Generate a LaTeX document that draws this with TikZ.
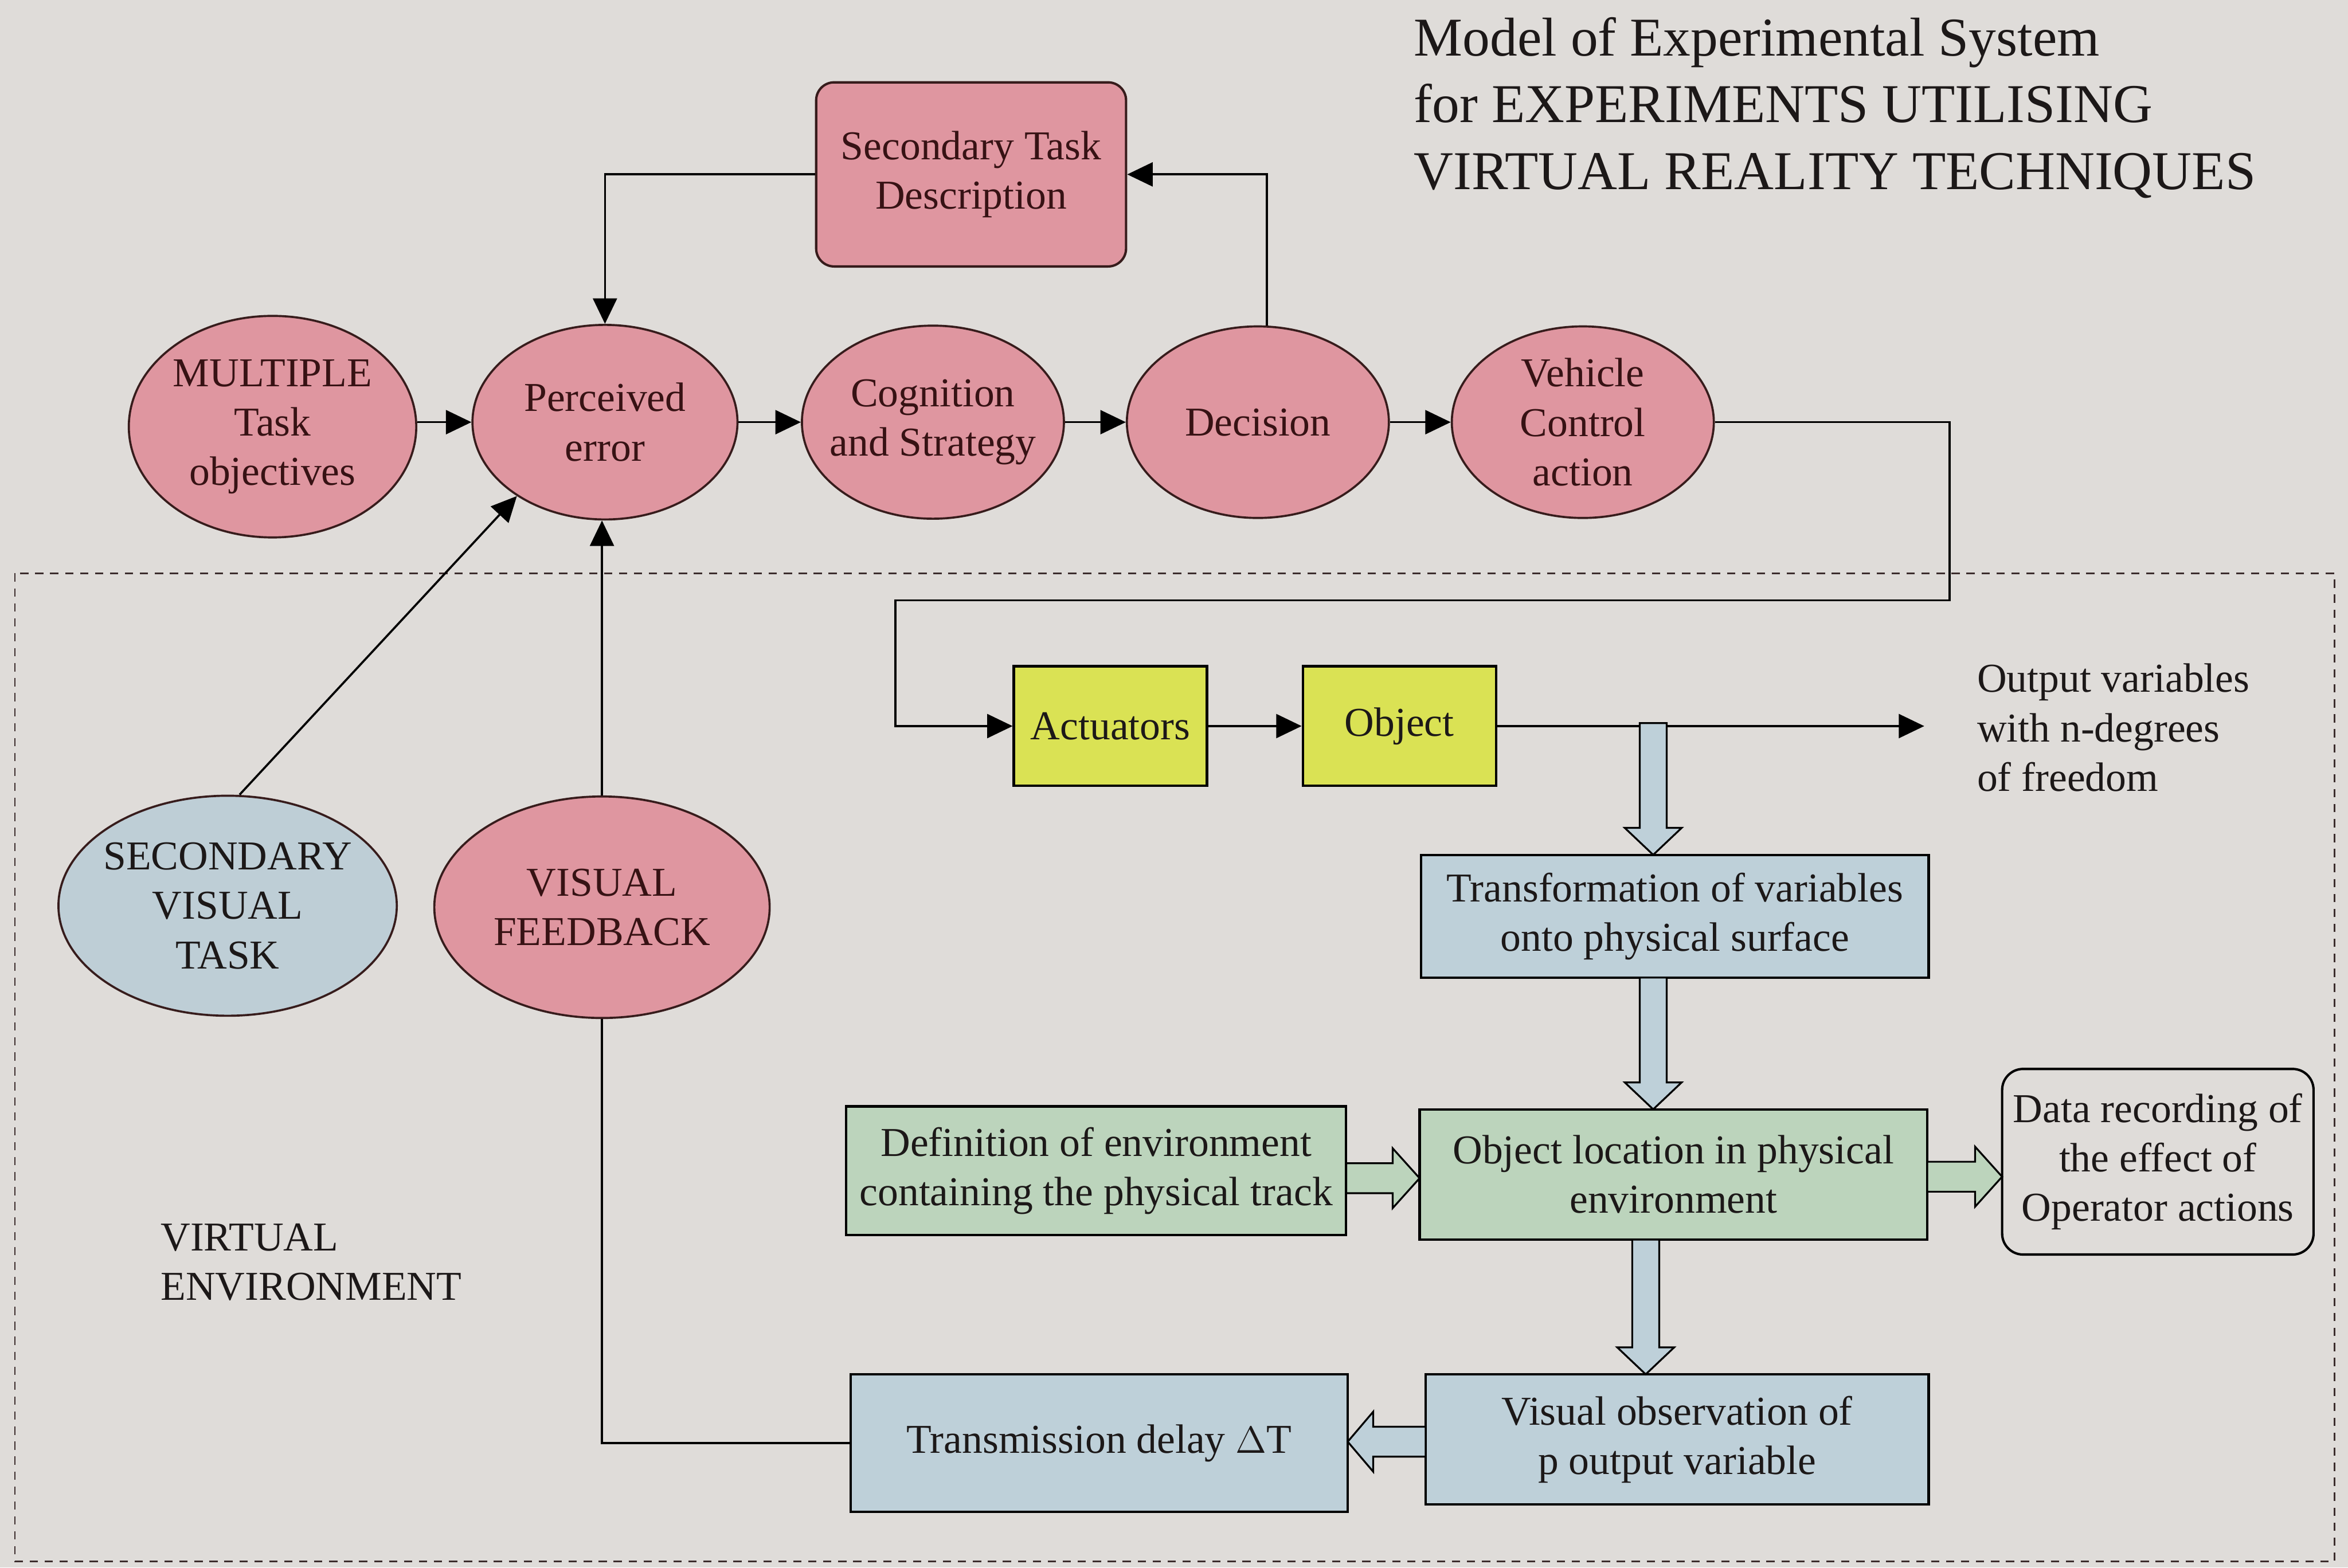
\documentclass[tikz,border=0pt]{standalone}
\usepackage{fontspec}
\setmainfont{Liberation Serif}
\usetikzlibrary{shapes.geometric,arrows.meta}
\definecolor{bgc}{RGB}{223,220,217}
\definecolor{pinkf}{RGB}{223,150,160}
\definecolor{bluef}{RGB}{190,206,214}
\definecolor{boxblue}{RGB}{190,208,217}
\definecolor{greenf}{RGB}{188,212,188}
\definecolor{yellowf}{RGB}{218,226,84}
\definecolor{edgec}{RGB}{55,28,28}
\definecolor{ptext}{RGB}{55,18,20}
\definecolor{txt}{RGB}{28,24,24}
\definecolor{dashc}{RGB}{60,45,45}
\begin{document}
\begin{tikzpicture}[x=0.02cm,y=-0.02cm,
  every node/.style={font=\fontsize{15.6}{18.8}\selectfont, text=txt},
  pinkell/.style={ellipse, draw=edgec, fill=pinkf, line width=0.8pt, inner sep=0pt, align=center, text=ptext},
  blueell/.style={ellipse, draw=edgec, fill=bluef, line width=0.8pt, inner sep=0pt, align=center},
  pinkbox/.style={rectangle, rounded corners=0.24cm, draw=edgec, fill=pinkf, line width=0.9pt, inner sep=0pt, align=center, text=ptext},
  bluebox/.style={rectangle, draw=black, fill=boxblue, line width=0.9pt, inner sep=0pt, align=center},
  greenbox/.style={rectangle, draw=black, fill=greenf, line width=0.9pt, inner sep=0pt, align=center},
  yellowbox/.style={rectangle, draw=black, fill=yellowf, line width=0.9pt, inner sep=0pt, align=center},
  plainbox/.style={rectangle, rounded corners=0.28cm, draw=black, line width=0.9pt, inner sep=0pt, align=center},
  conn/.style={draw=black, line width=0.8pt},
  arr/.style={conn, -{Triangle[length=0.34cm,width=0.32cm]}},
  blk/.style={draw=black, fill=boxblue, line width=0.7pt, line join=miter},
  blkg/.style={draw=black, fill=greenf, line width=0.7pt, line join=miter},
  labeltext/.style={align=left, inner sep=0pt}
]
\fill[bgc] (0,0) rectangle (1568,1047);
\useasboundingbox (0,0) rectangle (1568,1047);

% title
\node[labeltext, anchor=west, font=\fontsize{20.8}{25.3}\selectfont] (title) at (944,72)
  {Model of Experimental System\\for EXPERIMENTS UTILISING\\VIRTUAL REALITY TECHNIQUES};

% dashed virtual environment frame
\draw[dashc, line width=0.6pt, dash pattern=on 0.11cm off 0.09cm] (10,383) rectangle (1559,1043);
\node[labeltext, anchor=west] (ve) at (107,843) {VIRTUAL\\ENVIRONMENT};

% top row
\node[pinkbox, minimum width=4.14cm, minimum height=2.46cm] (std) at (648.5,116.5) {Secondary Task\\Description};
\node[pinkell, minimum width=3.84cm, minimum height=2.96cm, inner ysep=-0.1cm] (mto) at (182,285) {MULTIPLE\\Task\\objectives};
\node[pinkell, minimum width=3.54cm, minimum height=2.6cm] (pe) at (404,282) {Perceived\\error};
\node[pinkell, minimum width=3.5cm, minimum height=2.58cm, inner xsep=-0.15cm] (cs) at (623,282) {Cognition\\and Strategy};
\node[pinkell, minimum width=3.5cm, minimum height=2.56cm] (dec) at (840,282) {Decision};
\node[pinkell, minimum width=3.5cm, minimum height=2.56cm, inner ysep=-0.1cm] (vca) at (1057,282) {Vehicle\\Control\\action};

% lower ellipses
\node[blueell, minimum width=4.52cm, minimum height=2.94cm, inner xsep=-0.15cm, inner ysep=-0.1cm] (svt) at (152,605) {SECONDARY\\VISUAL\\TASK};
\node[pinkell, minimum width=4.48cm, minimum height=2.96cm] (vf) at (402,606) {VISUAL\\FEEDBACK};

% plant
\node[yellowbox, minimum width=2.58cm, minimum height=1.6cm] (act) at (741.5,485) {Actuators};
\node[yellowbox, minimum width=2.58cm, minimum height=1.6cm] (obj) at (934.5,485) {Object};
\coordinate (outtip) at (1285,485);
\node[labeltext, anchor=west] (outv) at (1320,486) {Output variables\\with n-degrees\\of freedom};

\node[bluebox, minimum width=6.78cm, minimum height=1.64cm] (tf) at (1118.5,612) {Transformation of variables\\onto physical surface};
\node[greenbox, minimum width=6.78cm, minimum height=1.74cm] (ol) at (1117.5,784.5) {Object location in physical\\environment};
\node[greenbox, minimum width=6.68cm, minimum height=1.72cm] (def) at (732,782) {Definition of environment\\containing the physical track};
\node[plainbox, minimum width=4.16cm, minimum height=2.48cm] (dr) at (1441,776) {Data recording of\\the effect of\\Operator actions};
\node[bluebox, minimum width=6.72cm, minimum height=1.74cm] (vo) at (1120,961.5) {Visual observation of\\p output variable};
\node[bluebox, minimum width=6.64cm, minimum height=1.84cm] (td) at (734,964) {Transmission delay $\Delta$T};

% top row connectors
\draw[arr] (pe.west -| mto.east) -- (pe.west);
\draw[arr] (pe.east) -- (cs.west);
\draw[arr] (cs.east) -- (dec.west);
\draw[arr] (dec.east) -- (vca.west);
\draw[arr] (std.west) -| (pe.north);
\draw[arr] ([xshift=0.12cm]dec.north) |- (std.east);

% vehicle control to actuators
\coordinate (turnA) at (1302,401);
\coordinate (turnB) at (598,401);
\draw[arr] (vca.east) -| (turnA) -- (turnB) |- (act.west);
\draw[arr] (act.east) -- (obj.west);
\draw[arr] (obj.east) -- (outtip);

% feedback to perceived error
\draw[arr] (svt.north) ++(0.16cm,0) -- (pe.220);
\draw[arr] (vf.north) -- (vf.north |- pe.south);
\draw[conn] (td.west) -| (vf.south);

% block arrows (vertical)
\filldraw[blk] (1095,483) -- (1095,553) -- (1085,553) -- (1104,571) -- (1123,553) -- (1113,553) -- (1113,483) -- cycle;
\filldraw[blk] (1095,653) -- (1095,723) -- (1085,723) -- (1104,741) -- (1123,723) -- (1113,723) -- (1113,653) -- cycle;
\filldraw[blk] (1090,828) -- (1090,900) -- (1080,900) -- (1099,918) -- (1118,900) -- (1108,900) -- (1108,828) -- cycle;
% block arrows (horizontal)
\filldraw[blkg] (899,777) -- (930,777) -- (930,767) -- (948,787) -- (930,807) -- (930,797) -- (899,797) -- cycle;
\filldraw[blkg] (1287,776) -- (1319,776) -- (1319,766) -- (1337,786) -- (1319,806) -- (1319,796) -- (1287,796) -- cycle;
\filldraw[blk] (952,953) -- (917,953) -- (917,943) -- (900,963) -- (917,983) -- (917,973) -- (952,973) -- cycle;
\end{tikzpicture}
\end{document}
